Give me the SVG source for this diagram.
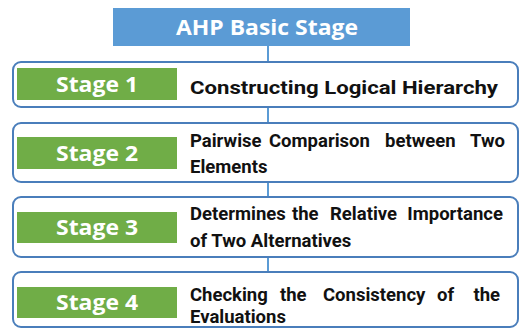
<svg xmlns="http://www.w3.org/2000/svg" width="521" height="329" viewBox="0 0 521 329">
  <style>
    .box { fill: #ffffff; stroke: #4a7ebb; stroke-width: 2; }
    .tag { fill: #70ad47; }
    .tagtxt { fill: #ffffff; font-family: "Open Sans", "Noto Sans", sans-serif; font-weight: bold; font-size: 22px; text-anchor: middle; }
    .desc { fill: #111111; font-family: Roboto, "Noto Sans", sans-serif; font-weight: bold; font-size: 18.5px; }
    .end { text-anchor: end; }
    .link { stroke: #5b9bd5; stroke-width: 2; fill: none; }
  </style>
  <rect width="521" height="329" fill="#ffffff"/>

  <!-- spine connecting the header to each stage -->
  <g id="connectors">
    <line class="link" x1="268" y1="46" x2="268" y2="272"/>
  </g>

  <g id="header">
    <rect x="113" y="8" width="297" height="38" fill="#5b9bd5"/>
    <text x="267" y="35" fill="#ffffff" font-family="'Open Sans', 'Noto Sans', sans-serif" font-weight="bold" font-size="22" text-anchor="middle" textLength="182" lengthAdjust="spacingAndGlyphs">AHP Basic Stage</text>
  </g>

  <!-- justified first lines: words start at fixed columns, last word flush right -->
  <g id="stage1">
    <rect class="box" x="13" y="62" width="505" height="45" rx="8"/>
    <rect class="tag" x="17" y="68" width="160" height="32"/>
    <text class="tagtxt" x="97" y="92" textLength="82" lengthAdjust="spacingAndGlyphs">Stage 1</text>
    <text class="desc" x="190" y="94" textLength="308" lengthAdjust="spacingAndGlyphs">Constructing Logical Hierarchy</text>
  </g>

  <g id="stage2">
    <rect class="box" x="13" y="123" width="505" height="59" rx="8"/>
    <rect class="tag" x="17" y="137" width="160" height="32"/>
    <text class="tagtxt" x="97" y="161" textLength="82" lengthAdjust="spacingAndGlyphs">Stage 2</text>
    <text class="desc" y="147"><tspan x="190">Pairwise</tspan><tspan x="269">Comparison</tspan><tspan x="385">between</tspan><tspan x="505" class="end">Two</tspan></text>
    <text class="desc" x="190" y="173">Elements</text>
  </g>

  <g id="stage3">
    <rect class="box" x="13" y="197" width="505" height="60" rx="8"/>
    <rect class="tag" x="17" y="212" width="160" height="31"/>
    <text class="tagtxt" x="97" y="235" textLength="82" lengthAdjust="spacingAndGlyphs">Stage 3</text>
    <text class="desc" y="220"><tspan x="190">Determines</tspan><tspan x="292">the</tspan><tspan x="330">Relative</tspan><tspan x="503" class="end">Importance</tspan></text>
    <text class="desc" x="190" y="247">of Two Alternatives</text>
  </g>

  <g id="stage4">
    <rect class="box" x="13" y="272" width="505" height="55" rx="8"/>
    <rect class="tag" x="17" y="287" width="160" height="31"/>
    <text class="tagtxt" x="97" y="310" textLength="82" lengthAdjust="spacingAndGlyphs">Stage 4</text>
    <text class="desc" y="301"><tspan x="190">Checking</tspan><tspan x="280">the</tspan><tspan x="323">Consistency</tspan><tspan x="437">of</tspan><tspan x="500" class="end">the</tspan></text>
    <text class="desc" x="190" y="323">Evaluations</text>
  </g>
</svg>
